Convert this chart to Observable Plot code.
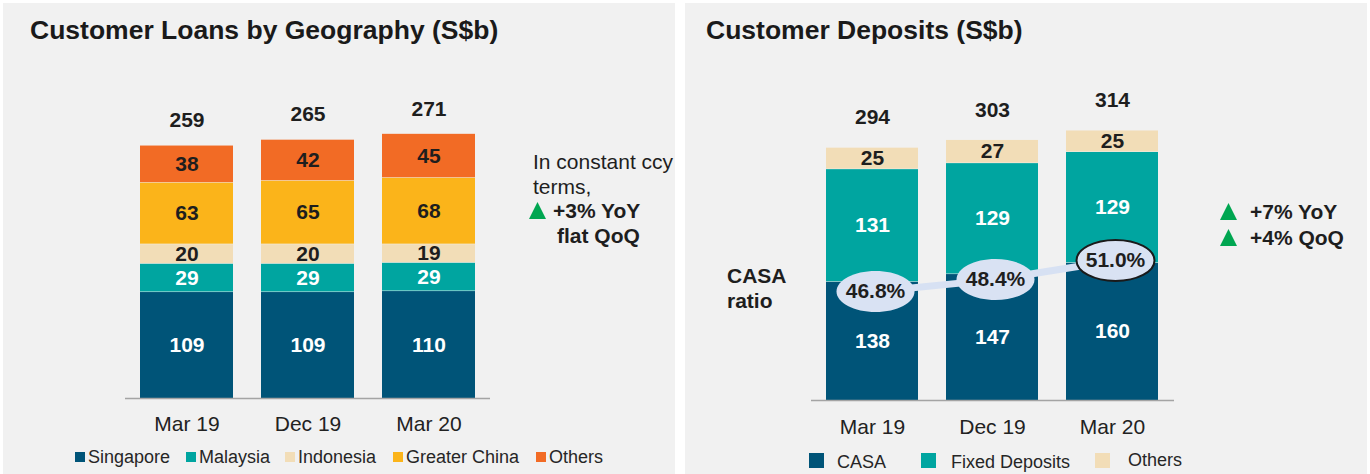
<!DOCTYPE html>
<html><head><meta charset="utf-8">
<script src="https://cdn.jsdelivr.net/npm/d3@7"></script>
<script src="https://cdn.jsdelivr.net/npm/@observablehq/plot@0.6"></script>
<style>
body{margin:0;background:#fff;width:1370px;height:474px;position:relative;overflow:hidden;font-family:"Liberation Sans",Arial,sans-serif;color:#1e1e1e}
.panel{position:absolute;top:3px;height:471px;background:#f1f1f1;overflow:hidden}
.panel svg{position:absolute;left:0;top:0}
.abs{position:absolute;white-space:nowrap}
.title{font-weight:bold;font-size:26.5px;line-height:26px;color:#1a1a1a}
.tri{display:inline-block;width:17px;height:17px;background:#00a651;clip-path:polygon(50% 0,100% 100%,0 100%);vertical-align:-1px}
.sq{position:absolute;width:10px;height:10px}
.sq2{position:absolute;width:15px;height:15px}
.lg{position:absolute;font-size:18px;line-height:20px;color:#262626;white-space:nowrap}
</style></head>
<body>
<div class="panel" id="left" style="left:3px;width:672px">
  <div class="abs title" style="left:27px;top:14px">Customer Loans by Geography (S$b)</div>
</div>
<div class="panel" id="right" style="left:685px;width:682px">
  <div class="abs title" style="left:21px;top:14px">Customer Deposits (S$b)</div>
</div>
<script>
// ---------- data ----------
const periods = ["Mar 19", "Dec 19", "Mar 20"];

const loanSeries = ["Singapore", "Malaysia", "Indonesia", "Greater China", "Others"];
const loanSingapore = [109, 109, 110];
const loanMalaysia = [29, 29, 29];
const loanIndonesia = [20, 20, 19];
const loanGreaterChina = [63, 65, 68];
const loanOthers = [38, 42, 45];
const loanColors = ["#005478", "#00a5a0", "#f2ddb7", "#fbb41a", "#f26b25"];
const loanLightText = ["Singapore", "Malaysia"];

const depSeries = ["CASA", "Fixed Deposits", "Others"];
const depCASA = [138, 147, 160];
const depFixed = [131, 129, 129];
const depOthers = [25, 27, 25];
const depColors = ["#005478", "#00a5a0", "#f2ddb7"];
const depLightText = ["CASA", "Fixed Deposits"];

const casaRatio = [46.8, 48.4, 51.0];
const casaRatioLabels = ["46.8%", "48.4%", "51.0%"];

// ---------- derived tables ----------
const loanValues = [loanSingapore, loanMalaysia, loanIndonesia, loanGreaterChina, loanOthers];
const loanRows = periods.flatMap((p, i) => loanSeries.map((s, j) => ({period: p, series: s, value: loanValues[j][i]})));
const loanTotals = periods.map((p, i) => ({period: p, total: d3.sum(loanValues, v => v[i])}));

const depValues = [depCASA, depFixed, depOthers];
const depRows = periods.flatMap((p, i) => depSeries.map((s, j) => ({period: p, series: s, value: depValues[j][i]})));
const depTotals = periods.map((p, i) => ({period: p, total: d3.sum(depValues, v => v[i])}));
const ratioRows = periods.map((p, i) => ({period: p, ratio: casaRatio[i], label: casaRatioLabels[i]}));
// secondary (ratio) axis mapped onto the deposit value axis
const ratioAxis = d3.scaleLinear([32, 67], [0, 300]);

const font = "'Liberation Sans', Arial, sans-serif";
const ink = "#1e1e1e";

const ellipse = {
  draw(ctx) {
    const rx = 39, ry = 20.5, k = 0.5523, kx = rx * k, ky = ry * k;
    ctx.moveTo(rx, 0);
    ctx.bezierCurveTo(rx, ky, kx, ry, 0, ry);
    ctx.bezierCurveTo(-kx, ry, -rx, ky, -rx, 0);
    ctx.bezierCurveTo(-rx, -ky, -kx, -ry, 0, -ry);
    ctx.bezierCurveTo(kx, -ry, rx, -ky, rx, 0);
    ctx.closePath();
  }
};

function segLabels(rows, light, fill, pick) {
  return Plot.text(rows, Plot.stackY({
    x: "period", y: "value",
    text: d => (light.includes(d.series) === pick) ? String(d.value) : null,
    fill, fontSize: 21, fontWeight: "bold"
  }));
}

// ---------- left chart ----------
const loanPlot = Plot.plot({
  width: 672, height: 471,
  marginLeft: 122, marginRight: 185, marginTop: 102, marginBottom: 76,
  x: {domain: periods, paddingInner: 0.23, paddingOuter: 0.117, label: null},
  y: {domain: [0, 300], axis: null},
  color: {domain: loanSeries, range: loanColors},
  style: {background: "transparent", fontFamily: font, overflow: "visible"},
  marks: [
    Plot.barY(loanRows, {x: "period", y: "value", fill: "series", insetTop: 0.5}),
    Plot.ruleY([0], {stroke: "#a4a4a4", strokeWidth: 1.5}),
    segLabels(loanRows, loanLightText, "white", true),
    segLabels(loanRows, loanLightText, ink, false),
    Plot.text(loanTotals, {x: "period", y: "total", text: d => String(d.total), dy: -25, fontSize: 21, fontWeight: "bold", fill: ink}),
    Plot.axisX({tickSize: 0, tickPadding: 18, fontSize: 21, color: "#222", label: null})
  ]
});
document.getElementById("left").prepend(loanPlot);

// ---------- right chart ----------
const depPlot = Plot.plot({
  width: 682, height: 471,
  marginLeft: 126, marginRight: 193, marginTop: 96, marginBottom: 74,
  x: {domain: periods, paddingInner: 0.23, paddingOuter: 0.117, label: null},
  y: {domain: [0, 350], axis: null},
  color: {domain: depSeries, range: depColors},
  style: {background: "transparent", fontFamily: font, overflow: "visible"},
  marks: [
    Plot.barY(depRows, {x: "period", y: "value", fill: "series", insetTop: 0.5}),
    Plot.ruleY([0], {stroke: "#a4a4a4", strokeWidth: 1.5}),
    segLabels(depRows, depLightText, "white", true),
    segLabels(depRows, depLightText, ink, false),
    Plot.text(depTotals, {x: "period", y: "total", text: d => String(d.total), dy: -30, fontSize: 21, fontWeight: "bold", fill: ink}),
    Plot.line(ratioRows, {x: "period", y: d => ratioAxis(d.ratio), stroke: "#d7e1f3", strokeWidth: 7, dx: 3}),
    Plot.dot(ratioRows, {x: "period", y: d => ratioAxis(d.ratio), symbol: ellipse, r: 10, fill: "#d9e2f3", stroke: "none", dx: 3}),
    Plot.dot(ratioRows.slice(-1), {x: "period", y: d => ratioAxis(d.ratio), symbol: ellipse, r: 10, fill: "none", stroke: "#1a1a1a", strokeWidth: 2, dx: 3}),
    Plot.text(ratioRows, {x: "period", y: d => ratioAxis(d.ratio), text: "label", dx: 3, fontSize: 21, fontWeight: "bold", fill: ink}),
    Plot.axisX({tickSize: 0, tickPadding: 19, fontSize: 21, color: "#222", label: null})
  ]
});
document.getElementById("right").prepend(depPlot);

// ---------- annotations & legends ----------
const left = document.getElementById("left");
left.insertAdjacentHTML("beforeend", `
  <div class="abs" style="left:526px;top:147px;font-size:21px;line-height:24.5px;color:#1e1e1e">
    <div style="padding-left:4px">In constant ccy</div>
    <div style="padding-left:4px">terms,</div>
    <div style="font-weight:bold"><span class="tri"></span><span style="margin-left:7px">+3% YoY</span></div>
    <div style="font-weight:bold;padding-left:28px">flat QoQ</div>
  </div>`);
const loanLegendX = [72, 183, 282, 390, 533];
loanSeries.forEach((s, i) => {
  left.insertAdjacentHTML("beforeend",
    `<div class="sq" style="left:${loanLegendX[i]}px;top:449px;background:${loanColors[i]}"></div>
     <div class="lg" style="left:${loanLegendX[i] + 13}px;top:444px">${s}</div>`);
});

const right = document.getElementById("right");
right.insertAdjacentHTML("beforeend", `
  <div class="abs" style="left:42px;top:260px;font-size:21px;line-height:25px;font-weight:bold;color:#1e1e1e">
    <div>CASA</div><div>ratio</div>
  </div>
  <div class="abs" style="left:535px;top:196px;font-size:21px;line-height:26px;font-weight:bold;color:#1e1e1e">
    <div><span class="tri"></span><span style="margin-left:13px">+7% YoY</span></div>
    <div><span class="tri"></span><span style="margin-left:13px">+4% QoQ</span></div>
  </div>`);
const depLegendSq = [124, 236, 410];
const depLegendTx = [152, 266, 443];
const depLegendTop = [449, 449, 447];
depSeries.forEach((s, i) => {
  right.insertAdjacentHTML("beforeend",
    `<div class="sq2" style="left:${depLegendSq[i]}px;top:450px;background:${depColors[i]}"></div>
     <div class="lg" style="left:${depLegendTx[i]}px;top:${depLegendTop[i]}px">${s}</div>`);
});
</script>
</body></html>
